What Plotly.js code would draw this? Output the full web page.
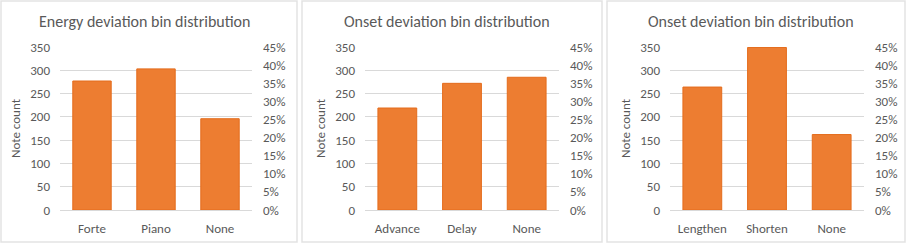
<!DOCTYPE html>
<html>
<head>
<meta charset="utf-8">
<script src="https://cdn.plot.ly/plotly-3.0.1.min.js"></script>
<style>html,body{margin:0;padding:0;background:#fff}#chart{width:909px;height:245px}</style>
</head>
<body>
<div id="chart"></div>
<script>
const titles = ["Energy deviation bin distribution", "Onset deviation bin distribution", "Onset deviation bin distribution"];
const categories1 = ["Forte", "Piano", "None"];
const values1 = [277, 303, 196];
const categories2 = ["Advance", "Delay", "None"];
const values2 = [219, 272, 285];
const categories3 = ["Lengthen", "Shorten", "None"];
const values3 = [264, 349, 162];
const yTitle = "Note count";

const W = 909, H = 245;
const FONT = "Carlito, Calibri, Lato, sans-serif";
const TXT = "#595959";
const cats = [categories1, categories2, categories3];
const vals = [values1, values2, values3];
const plotX = [[60, 252], [365, 559], [670, 864]];
const panelX = [[1, 297], [302, 602], [607, 905]];
const yDom = [(H - 210) / H, (H - 47) / H];

const data = [];
const layout = {
  width: W, height: H,
  margin: {l: 0, r: 0, t: 0, b: 0},
  paper_bgcolor: "#fff", plot_bgcolor: "rgba(0,0,0,0)",
  showlegend: false,
  font: {family: FONT, color: TXT, size: 13},
  annotations: [], shapes: []
};

for (let i = 0; i < 3; i++) {
  const n = i + 1;
  const xa = "x" + (n === 1 ? "" : n);
  const ya = "y" + (2 * i + 1 === 1 ? "" : 2 * i + 1);
  const ya2 = "y" + (2 * i + 2);
  data.push({
    type: "bar", x: cats[i], y: vals[i], xaxis: xa, yaxis: ya,
    width: 0.6,
    marker: {color: "#ED7D31", line: {color: "#E46C1C", width: 1}},
    hoverinfo: "x+y"
  });
  // invisible trace to anchor right axis
  data.push({
    type: "scatter", x: cats[i], y: [null, null, null], xaxis: xa, yaxis: ya2,
    mode: "markers", hoverinfo: "skip", showlegend: false
  });
  const xKey = "xaxis" + (n === 1 ? "" : n);
  const yKey = "yaxis" + (2 * i + 1 === 1 ? "" : 2 * i + 1);
  const y2Key = "yaxis" + (2 * i + 2);
  layout[xKey] = {
    domain: [plotX[i][0] / W, plotX[i][1] / W],
    anchor: ya, type: "category",
    showgrid: false, zeroline: false,
    showline: true, linecolor: "#d9d9d9", linewidth: 1,
    ticks: "", ticklabelstandoff: 6,
    tickfont: {family: FONT, size: 13, color: TXT},
    fixedrange: true
  };
  layout[yKey] = {
    domain: yDom, anchor: xa,
    range: [0, 350], dtick: 50, tick0: 0,
    showgrid: true, gridcolor: "#d9d9d9", gridwidth: 1,
    zeroline: false, showline: false, ticks: "",
    ticklabelstandoff: 9,
    tickfont: {family: FONT, size: 13, color: TXT},
    title: {text: yTitle, font: {family: FONT, size: 13, color: TXT}, standoff: 6},
    fixedrange: true
  };
  layout[y2Key] = {
    domain: yDom, anchor: xa, overlaying: ya, side: "right",
    range: [0, 0.45], dtick: 0.05, tick0: 0, tickformat: ".0%",
    showgrid: false, zeroline: false, showline: false, ticks: "",
    ticklabelstandoff: 10,
    tickfont: {family: FONT, size: 13, color: TXT},
    fixedrange: true
  };
  layout.annotations.push({
    text: titles[i], xref: "paper", yref: "paper",
    x: ((panelX[i][0] + panelX[i][1]) / 2 - 5) / W, y: (H - 21) / H,
    xanchor: "center", yanchor: "middle", showarrow: false,
    font: {family: FONT, size: 16, color: TXT}
  });
  layout.shapes.push({
    type: "rect", xref: "paper", yref: "paper", layer: "below",
    x0: panelX[i][0] / W, x1: panelX[i][1] / W,
    y0: (H - 242) / H, y1: (H - 1) / H,
    line: {color: "#e3e3e3", width: 1.5}, fillcolor: "rgba(0,0,0,0)"
  });
}

Plotly.newPlot("chart", data, layout, {displayModeBar: false, staticPlot: true});
</script>
</body>
</html>
